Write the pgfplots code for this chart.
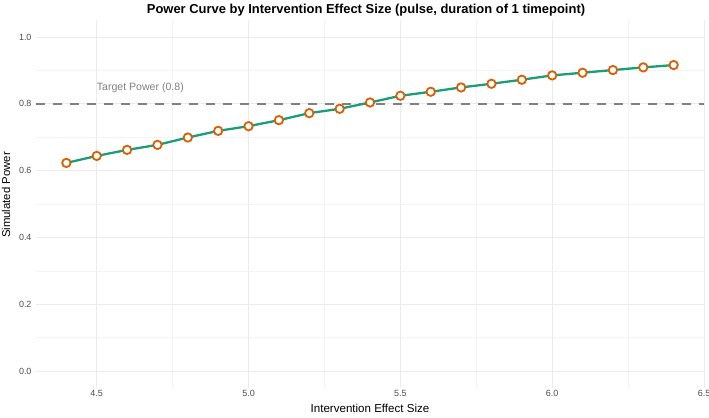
\documentclass[border=0pt]{standalone}
\usepackage{fontspec}
\setmainfont{Liberation Sans}
\usepackage{pgfplots}
\pgfplotsset{compat=1.18}

\definecolor{linegreen}{HTML}{1B9E77}
\definecolor{markorange}{HTML}{D95F02}
\definecolor{gridmajor}{HTML}{EBEBEB}
\definecolor{gridminor}{HTML}{F3F3F3}
\definecolor{ticktext}{HTML}{4D4D4D}
\definecolor{refgray}{HTML}{808080}

\begin{document}
\begin{tikzpicture}[x=1bp,y=1bp]
\path[use as bounding box] (0,0) rectangle (709,417);
\begin{axis}[
  at={(36bp,29.3bp)}, anchor=south west,
  scale only axis, width=668bp, height=367.4bp,
  xmin=4.3, xmax=6.5, ymin=-0.05, ymax=1.05,
  xtick={4.5,5,5.5,6,6.5}, minor xtick={4.75,5.25,5.75,6.25},
  ytick={0,0.2,0.4,0.6,0.8,1.0}, minor ytick={0.1,0.3,0.5,0.7,0.9},
  /pgf/number format/assume math mode=true,
  /pgf/number format/.cd, fixed, fixed zerofill, precision=1, /pgfplots/.cd,
  ticklabel style={font=\fontsize{9}{10}\selectfont, text=ticktext},
  xticklabel style={yshift=1bp},
  yticklabel style={xshift=-1bp},
  grid=both,
  major grid style={gridmajor, line width=0.8bp},
  minor grid style={gridminor, line width=0.5bp},
  axis line style={draw=none},
  major tick length=0pt, minor tick length=0pt,
  clip=false,
]
% reference line for the target power
\addplot[refgray, line width=2.2bp, dash pattern=on 8.5bp off 8.5bp]
  coordinates {(4.3,0.8) (6.5,0.8)};
\node[anchor=west, text=refgray, font=\fontsize{10.6}{12}\selectfont, inner sep=0pt]
  at (axis cs:4.5,0.848) {Target Power (0.8)};
% simulated power at each effect size
\addplot[linegreen, line width=2.3bp,
  mark=*, mark size=4.2bp,
  mark options={draw=markorange, fill=white, line width=1.8bp}]
  coordinates {
  (4.4,0.623) (4.5,0.644) (4.6,0.662) (4.7,0.677) (4.8,0.699)
  (4.9,0.719) (5.0,0.733) (5.1,0.751) (5.2,0.772) (5.3,0.785)
  (5.4,0.804) (5.5,0.824) (5.6,0.836) (5.7,0.849) (5.8,0.860)
  (5.9,0.872) (6.0,0.885) (6.1,0.893) (6.2,0.901) (6.3,0.909)
  (6.4,0.916)
  };
\end{axis}
\node[font=\bfseries\fontsize{13}{15}\selectfont] at (366,407) {Power Curve by Intervention Effect Size (pulse, duration of 1 timepoint)};
\node[font=\fontsize{11.6}{13}\selectfont] at (370,9) {Intervention Effect Size};
\node[font=\fontsize{11.4}{13}\selectfont, rotate=90] at (6,222) {Simulated Power};
\end{tikzpicture}
\end{document}
